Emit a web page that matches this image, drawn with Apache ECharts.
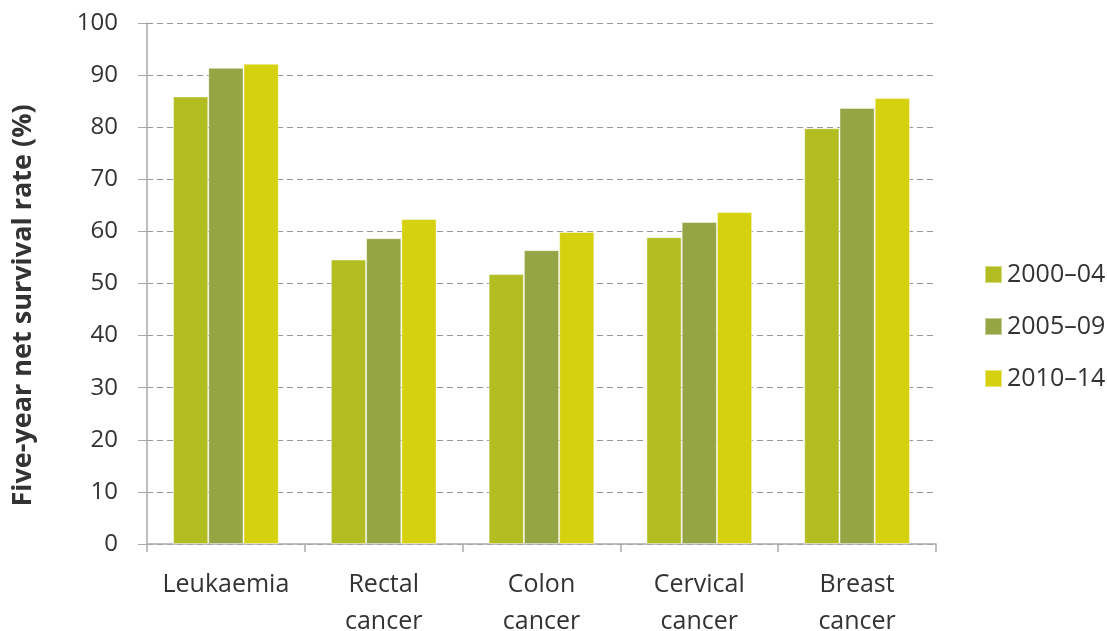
<!DOCTYPE html>
<html>
<head>
<meta charset="utf-8">
<script src="https://cdn.jsdelivr.net/npm/echarts@6/dist/echarts.min.js"></script>
<style>
  html, body { margin: 0; padding: 0; background: #fff; }
  #chart { width: 1107px; height: 631px; }
</style>
</head>
<body>
<div id="chart"></div>
<script>
// Cancer types and five-year net survival (%) per diagnosis period
const categories = ['Leukaemia', 'Rectal\ncancer', 'Colon\ncancer', 'Cervical\ncancer', 'Breast\ncancer'];
const periods = ['2000–04', '2005–09', '2010–14'];
const survival2000 = [85.9, 54.6, 51.8, 58.9, 79.8];
const survival2005 = [91.4, 58.7, 56.4, 61.8, 83.7];
const survival2010 = [92.2, 62.4, 59.9, 63.7, 85.6];
const colors = ['#b2bd22', '#95a543', '#d5d10e'];

const font = '"Open Sans", "Noto Sans", sans-serif';
const chart = echarts.init(document.getElementById('chart'));

const values = [survival2000, survival2005, survival2010];
chart.setOption({
  animation: false,
  textStyle: { fontFamily: font },
  grid: { left: 147, right: 171, top: 23, bottom: 87, containLabel: false, outerBoundsMode: 'none' },
  legend: {
    orient: 'vertical',
    left: 979,
    top: 257,
    itemWidth: 17,
    itemHeight: 17,
    itemGap: 27,
    icon: 'rect',
    textStyle: { fontSize: 25, color: '#333', fontFamily: font },
    data: periods
  },
  xAxis: {
    type: 'category',
    data: categories,
    boundaryGap: true,
    axisLine: { lineStyle: { color: '#aaa', width: 1.5 } },
    axisTick: { show: true, interval: 0, length: 8, lineStyle: { color: '#aaa', width: 1.5 } },
    axisLabel: { interval: 0, hideOverlap: false, fontSize: 25, color: '#333', margin: 22, lineHeight: 37, fontFamily: font }
  },
  yAxis: {
    type: 'value',
    min: 0,
    max: 100,
    interval: 10,
    name: 'Five-year net survival rate (%)',
    nameLocation: 'middle',
    nameGap: 110,
    nameRotate: 90,
    nameTextStyle: { fontSize: 27, fontWeight: 'bold', color: '#333', fontFamily: font, padding: [0, 44, 0, 0] },
    axisLine: { show: true, lineStyle: { color: '#aaa', width: 1.5 } },
    axisTick: { show: true, length: 9, lineStyle: { color: '#aaa', width: 1 } },
    axisLabel: { fontSize: 24, color: '#333', margin: 29, fontFamily: font },
    splitLine: { show: true, lineStyle: { color: '#999', type: [6, 4], width: 1 } }
  },
  series: periods.map((p, i) => ({
    name: p,
    type: 'bar',
    data: values[i],
    barGap: '0%',
    barCategoryGap: '33%',
    itemStyle: { color: colors[i], borderColor: 'rgba(255,255,255,0.45)', borderWidth: 1 }
  }))
});
</script>
</body>
</html>
